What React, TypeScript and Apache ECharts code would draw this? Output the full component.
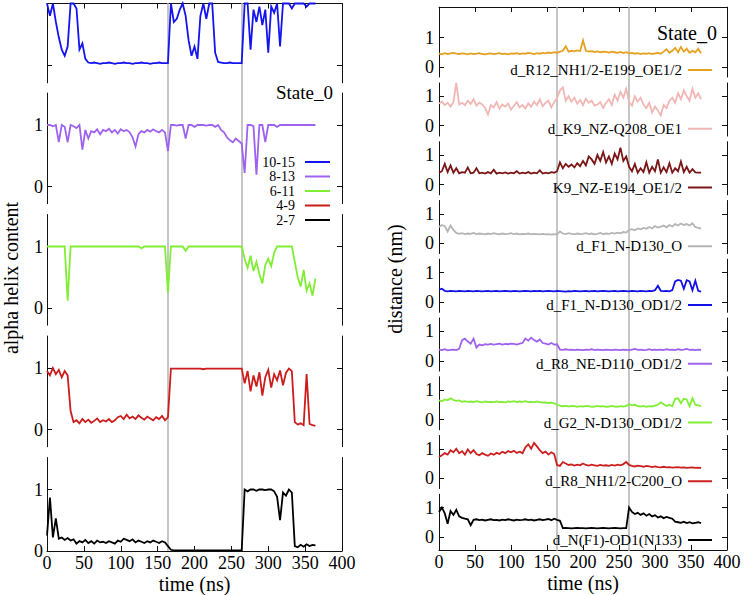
import React, { useEffect, useRef } from 'react';
import * as echarts from 'echarts';

// ---------- data (values in hundredths, sampled every 4 ns from 0 to 364 ns) ----------
const TIME_STEP_NS = 4;
const VLINES_NS = [164, 264];
const X_MIN = 0;
const X_MAX = 400;
const X_INTERVAL = 50;
const Y_TICKS = [0, 1];

const HELIX_NAMES = ['10-15', '8-13', '6-11', '4-9', '2-7'];

const HELIX_10_15 = [
  100, 80, 100, 70, 45, 25, 15, 30, 100, 100,
  92, 25, 35, 10, 4, 3, 4, 3, 2, 3,
  3, 4, 3, 2, 3, 3, 4, 3, 3, 2,
  3, 3, 4, 3, 3, 2, 3, 3, 4, 3,
  3, 3, 100, 70, 75, 90, 100, 80, 40, 15,
  30, 10, 80, 100, 75, 100, 100, 20, 5, 4,
  3, 3, 4, 3, 3, 3, 3, 100, 100, 25,
  90, 70, 95, 65, 90, 20, 95, 85, 100, 30,
  100, 100, 100, 92, 100, 100, 100, 100, 95, 100,
  100, 100,
];
const HELIX_8_13 = [
  100, 100, 98, 100, 72, 100, 97, 72, 100, 98,
  95, 100, 60, 92, 78, 90, 88, 93, 85, 92,
  90, 94, 88, 92, 86, 93, 90, 92, 88, 80,
  65, 85, 90, 88, 92, 89, 93, 90, 88, 92,
  88, 58, 100, 100, 99, 100, 100, 78, 100, 100,
  97, 100, 100, 100, 99, 100, 100, 97, 100, 92,
  88, 80, 75, 72, 78, 74, 70, 22, 100, 100,
  98, 19, 100, 100, 72, 100, 100, 100, 97, 100,
  100, 100, 100, 100, 100, 100, 100, 100, 100, 100,
  100, 100,
];
const HELIX_6_11 = [
  100, 100, 100, 100, 100, 100, 100, 12, 100, 100,
  100, 100, 100, 100, 100, 100, 100, 100, 100, 100,
  100, 100, 100, 100, 100, 100, 100, 100, 100, 100,
  100, 100, 97, 100, 100, 100, 100, 100, 100, 100,
  100, 25, 100, 100, 100, 100, 100, 93, 100, 100,
  100, 100, 100, 100, 100, 100, 100, 100, 100, 100,
  100, 100, 100, 100, 100, 100, 100, 80, 65, 85,
  60, 75, 55, 40, 70, 80, 68, 90, 100, 100,
  100, 100, 100, 100, 75, 50, 35, 62, 28, 40,
  20, 48,
];
const HELIX_4_9 = [
  95, 88, 100, 90, 97, 85, 95, 88, 30, 12,
  15, 10, 17, 12, 16, 11, 14, 18, 12, 15,
  13, 17, 12, 15, 20, 22, 17, 24, 18, 21,
  17, 23, 19, 16, 21, 18, 15, 20, 17, 22,
  15, 20, 99, 99, 99, 99, 99, 99, 99, 99,
  99, 99, 99, 98, 99, 99, 99, 99, 99, 99,
  99, 99, 99, 99, 99, 99, 99, 75, 95, 62,
  88, 70, 93, 55, 85, 97, 68, 90, 80, 96,
  72, 92, 99, 95, 12, 8, 10, 7, 90, 9,
  7, 6,
];
const HELIX_2_7 = [
  25, 87, 22, 53, 20, 22, 18, 21, 17, 19,
  12, 16, 14, 18, 13, 16, 12, 17, 14, 15,
  13, 16, 14, 12, 17, 15, 20, 18, 16, 19,
  14, 17, 15, 13, 16, 14, 17, 15, 13, 16,
  14, 8, 2, 1, 1, 1, 1, 1, 1, 1,
  1, 1, 1, 1, 1, 1, 1, 1, 1, 1,
  1, 1, 1, 1, 1, 1, 1, 100, 97, 100,
  100, 98, 100, 100, 99, 100, 100, 97, 88, 50,
  95, 90, 100, 95, 8, 6, 10, 7, 11, 8,
  10, 9,
];

const DIST_NAMES = [
  'd_R12_NH1/2-E199_OE1/2',
  'd_K9_NZ-Q208_OE1',
  'K9_NZ-E194_OE1/2',
  'd_F1_N-D130_O',
  'd_F1_N-D130_OD1/2',
  'd_R8_NE-D110_OD1/2',
  'd_G2_N-D130_OD1/2',
  'd_R8_NH1/2-C200_O',
  'd_N(F1)-OD1(N133)',
];

const D_R12_E199 = [
  45, 43, 47, 44, 46, 48, 45, 44, 46, 45,
  43, 46, 44, 45, 47, 44, 43, 45, 46, 44,
  45, 47, 44, 45, 43, 46, 45, 47, 44, 46,
  45, 48, 46, 44, 47, 45, 48, 46, 49, 47,
  50, 48, 52, 55, 70, 52, 55, 53, 56, 54,
  90, 55, 52, 54, 51, 53, 50, 52, 51, 49,
  52, 50, 48, 51, 47, 50, 46, 48, 45, 47,
  44, 46, 45, 47, 44, 46, 48, 45, 52, 60,
  48, 55, 65, 50, 68, 52, 62, 48, 55, 50,
  62, 47,
];
const D_K9_Q208 = [
  75, 82, 70, 78, 65, 80, 145, 72, 78, 70,
  85, 74, 90, 68, 78, 72, 60, 38, 70, 62,
  80, 58, 72, 65, 75, 55, 68, 80, 62, 70,
  58, 76, 64, 82, 70, 90, 66, 78, 85, 62,
  80, 95, 120, 130, 85, 100, 82, 95, 75, 88,
  70, 92, 78, 85, 68, 72, 80, 60, 78, 90,
  70, 105, 85, 115, 95, 125, 80, 68, 100, 82,
  95, 72, 60, 78, 45, 65, 52, 35, 70, 60,
  85, 95, 78, 110, 90, 120, 100, 85, 125, 95,
  110, 90,
];
const K9_E194 = [
  40, 45, 70, 42, 65, 40, 55, 38, 42, 40,
  58, 38, 40, 55, 38, 40, 37, 42, 38, 50,
  37, 40, 38, 41, 37, 40, 38, 45, 37, 40,
  38, 42, 37, 40, 38, 48, 37, 40, 38, 42,
  40, 45, 75, 55, 70, 60, 68, 58, 72, 62,
  80, 65, 95, 85, 70, 100, 80, 110, 75, 95,
  70, 105, 85, 125, 80, 95, 60, 45, 70, 40,
  55, 42, 75, 40, 60, 45, 85, 40, 58, 42,
  72, 40, 55, 45, 78, 42, 60, 40, 52, 41,
  40, 40,
];
const D_F1_D130_O = [
  55, 62, 58, 40, 60, 45, 35, 32, 34, 31,
  33, 32, 35, 31, 33, 32, 30, 33, 31, 34,
  32, 30, 33, 31, 32, 34, 31, 33, 30, 32,
  31, 33, 30, 32, 31, 30, 32, 30, 31, 29,
  31, 30, 40, 33, 31, 34, 32, 30, 33, 31,
  32, 34, 31, 33, 30, 32, 35, 31, 33, 32,
  35, 33, 36, 34, 38, 36, 45, 48, 44, 50,
  47, 52, 49, 55, 50, 58, 53, 56, 60, 54,
  62, 57, 65, 60, 67, 62, 65, 60, 68, 55,
  52, 50,
];
const D_F1_D130_OD = [
  42, 45, 38, 36, 38, 37, 36, 38, 37, 36,
  38, 37, 36, 38, 37, 36, 37, 38, 36, 37,
  38, 36, 37, 38, 37, 36, 38, 37, 36, 37,
  38, 37, 36, 38, 37, 38, 36, 37, 38, 37,
  36, 38, 37, 36, 35, 37, 36, 38, 37, 36,
  37, 38, 36, 37, 38, 36, 37, 38, 37, 36,
  37, 38, 36, 37, 38, 37, 36, 38, 37, 36,
  38, 37, 36, 38, 37, 40, 55, 38, 37, 38,
  36, 40, 70, 75, 72, 45, 74, 70, 40, 72,
  38, 35,
];
const D_R8_D110 = [
  38, 36, 39, 35, 37, 38, 36, 40, 70, 75,
  65, 58, 75, 45, 55, 52, 56, 55, 57, 55,
  56, 58, 55, 57, 56, 58, 57, 55, 58, 60,
  75, 68, 78, 70, 65, 72, 60, 58, 55, 60,
  55, 56, 38, 37, 39, 37, 38, 36, 38, 37,
  36, 38, 37, 39, 36, 38, 37, 36, 38, 37,
  36, 38, 37, 36, 38, 37, 36, 38, 40, 37,
  38, 36, 37, 39, 36, 38, 37, 38, 36, 39,
  37, 38, 36, 39, 37, 38, 40, 37, 38, 36,
  38, 37,
];
const D_G2_D130 = [
  65, 62, 68, 65, 72, 66, 63, 65, 60, 62,
  60, 61, 59, 62, 60, 58, 61, 59, 60, 58,
  61, 59, 60, 58, 61, 60, 62, 59, 61, 60,
  62, 59, 60, 58, 61, 59, 57, 58, 56, 57,
  55, 50, 47, 45, 46, 44, 46, 45, 43, 45,
  44, 46, 45, 43, 44, 46, 44, 45, 43, 44,
  46, 44, 43, 45, 44, 46, 52, 48, 50, 45,
  44, 46, 43, 45, 44, 47, 50, 58, 52, 46,
  50, 45, 70, 72, 55, 70, 68, 45, 72, 50,
  48, 45,
];
const D_R8_C200 = [
  72, 78, 85, 80, 95, 88, 100, 85, 92, 80,
  98, 85, 95, 82, 78, 85, 80, 76, 84, 80,
  86, 82, 90, 85, 92, 88, 93, 86, 90, 85,
  105, 115, 100, 120, 108, 95, 85, 90, 80, 88,
  82, 45, 42, 55, 50, 45, 47, 43, 46, 44,
  50, 45, 43, 46, 44, 42, 45, 43, 44, 42,
  45, 43, 46, 44, 48, 55, 45, 42, 40, 43,
  41, 39, 42, 40, 38, 40, 38, 37, 39, 37,
  38, 36, 37, 38, 36, 37, 35, 36, 37, 35,
  36, 35,
];
const D_N_F1_N133 = [
  85, 100, 80, 45, 88, 75, 92, 70, 65, 62,
  60, 40, 58, 60, 57, 59, 56, 58, 60, 57,
  58, 56, 59, 57, 60, 58, 56, 59, 57, 58,
  60, 57, 59, 56, 58, 60, 57, 59, 61, 57,
  62, 58, 55, 30, 31, 30, 29, 30, 31, 30,
  30, 29, 30, 31, 30, 29, 30, 31, 30, 29,
  30, 31, 30, 29, 30, 30, 100, 85, 78, 82,
  75, 80, 72, 78, 70, 74, 66, 70, 64, 68,
  65, 62, 52, 50, 48, 52, 47, 50, 46, 48,
  50, 47,
];

// ---------- styling / layout ----------
const FONT = '"Liberation Serif", "DejaVu Serif", "Times New Roman", serif';
const AXIS_COLOR = '#111';
const VLINE_COLOR = '#b3b3b3';

const LEFT_COLORS = ['#1414f0', '#9e62ef', '#80ee34', '#cc1c1c', '#000000'];
const RIGHT_COLORS = ['#e5a11f', '#f0b7b5', '#7a1616', '#b5b5b5', '#1212e6', '#9e62ef', '#80ee34', '#cc2020', '#000000'];

const LEFT_PANEL = { x0: 47, w: 295, zero0: 65, step: 121.5, unit: 61.5, top: 3 };
const RIGHT_PANEL = { x0: 439, w: 288, zero0: 67, step: 58.75, unit: 29.5, top: 7 };
const LEFT_RANGES: [number, number][] = [[-0.29, 1.0], [-0.28, 1.52], [-0.28, 1.52], [-0.28, 1.52], [0, 1.52]];
const RIGHT_RANGES: [number, number][] = [
  [-0.34, 2.03], [-0.35, 1.45], [-0.35, 1.45], [-0.35, 1.45], [-0.35, 1.45],
  [-0.35, 1.45], [-0.35, 1.45], [-0.35, 1.45], [-0.44, 1.45],
];

const LEFT_VALUES = [HELIX_10_15, HELIX_8_13, HELIX_6_11, HELIX_4_9, HELIX_2_7];
const RIGHT_VALUES = [D_R12_E199, D_K9_Q208, K9_E194, D_F1_D130_O, D_F1_D130_OD, D_R8_D110, D_G2_D130, D_R8_C200, D_N_F1_N133];

const toPoints = (vals: number[]) => vals.map((v, i) => [i * TIME_STEP_NS, v / 100]);

function buildOption() {
  const grid: any[] = [];
  const xAxis: any[] = [];
  const yAxis: any[] = [];
  const series: any[] = [];
  const legend: any[] = [];
  const lineStyle = { color: AXIS_COLOR, width: 1 };

  const panels = [
    { def: LEFT_PANEL, names: HELIX_NAMES, values: LEFT_VALUES, colors: LEFT_COLORS, ranges: LEFT_RANGES, left: true },
    { def: RIGHT_PANEL, names: DIST_NAMES, values: RIGHT_VALUES, colors: RIGHT_COLORS, ranges: RIGHT_RANGES, left: false },
  ];

  let k = 0;
  panels.forEach((p) => {
    const n = p.names.length;
    p.names.forEach((name, i) => {
      const [mn, mx] = p.ranges[i];
      const y0 = p.def.zero0 + p.def.step * i;
      grid.push({ left: p.def.x0, width: p.def.w, top: y0 - mx * p.def.unit, height: (mx - mn) * p.def.unit });
      const isTop = i === 0;
      const isBottom = i === n - 1;
      const xa: any = {
        gridIndex: k, type: 'value', min: X_MIN, max: X_MAX, interval: X_INTERVAL,
        splitLine: { show: false },
      };
      if (isTop) {
        Object.assign(xa, {
          position: 'top',
          axisLine: { show: true, onZero: false, lineStyle },
          axisTick: { show: true, inside: true, length: 5, lineStyle },
          axisLabel: { show: false },
        });
      } else if (isBottom) {
        Object.assign(xa, {
          position: 'bottom',
          axisLine: { show: true, onZero: false, lineStyle },
          axisTick: { show: true, inside: true, length: 5, lineStyle },
          axisLabel: { show: true, fontSize: 18, fontFamily: FONT, color: '#000', margin: 3 },
          name: 'time (ns)', nameLocation: 'middle', nameGap: 23,
          nameTextStyle: { fontSize: 20, fontFamily: FONT, color: '#000' },
        });
      } else {
        xa.show = false;
      }
      xAxis.push(xa);
      const showLabels = !(p.left && i === 0);
      yAxis.push({
        gridIndex: k, type: 'value', min: mn, max: mx, position: 'left',
        axisLine: { show: true, onZero: false, lineStyle },
        axisTick: { show: true, inside: true, length: 5, customValues: Y_TICKS, lineStyle },
        axisLabel: { show: showLabels, customValues: Y_TICKS, fontSize: 18, fontFamily: FONT, color: '#000', margin: p.left ? 4 : 5 },
        splitLine: { show: false },
      });
      yAxis.push({
        gridIndex: k, type: 'value', min: mn, max: mx, position: 'right',
        axisLine: { show: true, onZero: false, lineStyle },
        axisTick: { show: true, inside: true, length: 5, customValues: Y_TICKS, lineStyle },
        axisLabel: { show: false },
        splitLine: { show: false },
      });
      series.push({
        name, type: 'line', xAxisIndex: k, yAxisIndex: 2 * k,
        data: toPoints(p.values[i]),
        symbol: 'none', showSymbol: false, clip: false, z: 3,
        color: p.colors[i],
        lineStyle: { color: p.colors[i], width: 1.8, join: 'miter' },
        itemStyle: { color: p.colors[i] },
        silent: true,
      });
      if (!p.left) {
        legend.push({
          data: [name], right: 744 - 712, top: y0 + 3 - 8, padding: 0,
          align: 'right', icon: 'rect', itemWidth: 24, itemHeight: 2, selectedMode: false,
          textStyle: { fontSize: 15, fontFamily: FONT, color: '#000', lineHeight: 16, padding: [0, 1, 0, 0] },
        });
      }
      k++;
    });
  });

  legend.push({
    data: HELIX_NAMES, orient: 'vertical', right: 744 - 330, top: 155, padding: 0,
    align: 'right', icon: 'rect', itemWidth: 25, itemHeight: 2, itemGap: 0.5, selectedMode: false,
    textStyle: { fontSize: 14, fontFamily: FONT, color: '#000', lineHeight: 14, padding: [0, 5, 0, 0] },
  });

  // full-height overlay grids for the vertical state markers
  [LEFT_PANEL, RIGHT_PANEL].forEach((d) => {
    grid.push({ left: d.x0, width: d.w, top: d.top, height: 551 - d.top });
    xAxis.push({ gridIndex: k, type: 'value', min: X_MIN, max: X_MAX, show: false });
    yAxis.push({ gridIndex: k, type: 'value', min: 0, max: 1, show: false });
    series.push({
      type: 'line', xAxisIndex: k, yAxisIndex: yAxis.length - 1, data: [], z: 1, silent: true,
      markLine: {
        silent: true, z: 1, symbol: ['none', 'none'], label: { show: false },
        lineStyle: { color: VLINE_COLOR, width: 1.5, type: 'solid' },
        data: VLINES_NS.map((v) => ({ xAxis: v })),
      },
    });
    k++;
  });

  const textStyle = (text: string, size: number, align: string) => ({
    text, fontSize: size, fontFamily: FONT, fill: '#000',
    align, verticalAlign: 'middle', textAlign: align, textVerticalAlign: 'middle',
  });

  return {
    animation: false,
    backgroundColor: '#fff',
    grid, xAxis, yAxis, series, legend,
    graphic: [
      { type: 'text', x: 333, y: 92, style: textStyle('State_0', 19, 'right'), silent: true },
      { type: 'text', x: 717, y: 33, style: textStyle('State_0', 20, 'right'), silent: true },
      { type: 'text', x: 11, y: 278, rotation: Math.PI / 2, style: textStyle('alpha helix content', 20, 'center'), silent: true },
      { type: 'text', x: 395, y: 279, rotation: Math.PI / 2, style: textStyle('distance (nm)', 20, 'center'), silent: true },
    ],
  };
}

export default function App() {
  const ref = useRef<HTMLDivElement>(null);
  useEffect(() => {
    if (!ref.current) return;
    const chart = echarts.init(ref.current, null, { renderer: 'svg' });
    chart.setOption(buildOption() as any);
    return () => chart.dispose();
  }, []);
  return (
    <div
      ref={ref}
      style={{ position: 'fixed', left: 0, top: 0, width: 744, height: 595, background: '#fff' }}
    />
  );
}
